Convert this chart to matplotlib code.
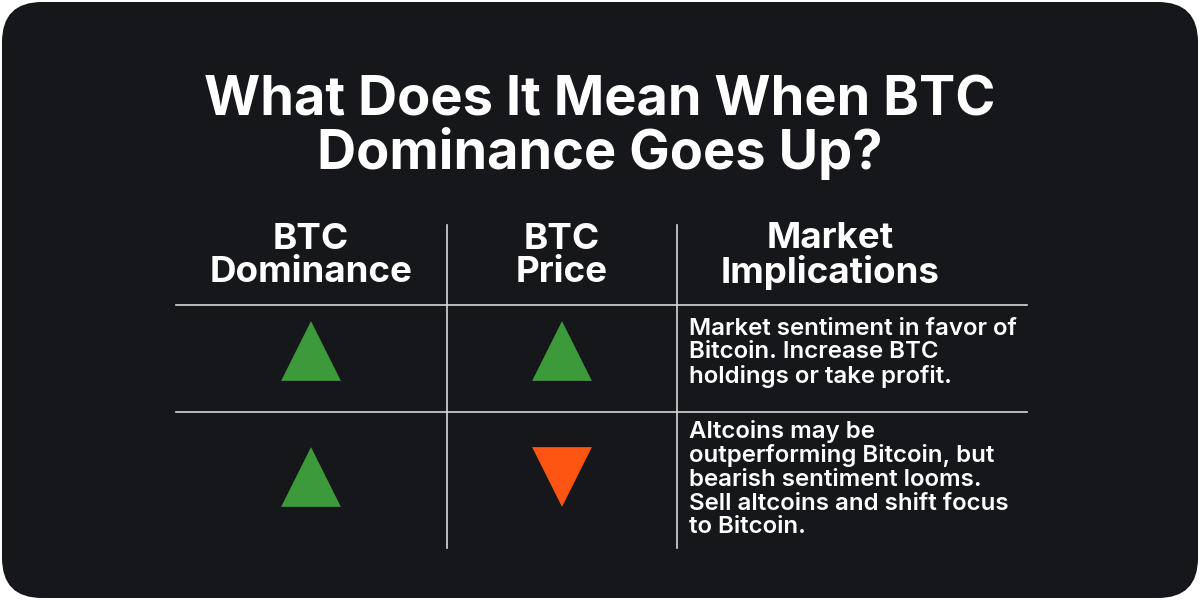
import matplotlib
matplotlib.use("Agg")
import matplotlib.pyplot as plt
from matplotlib.patches import FancyBboxPatch

title = "What Does It Mean When BTC\nDominance Goes Up?"
headers = ["BTC\nDominance", "BTC\nPrice", "Market\nImplications"]
dominance = ["up", "up"]
price = ["up", "down"]
implications = [
    "Market sentiment in favor of\nBitcoin. Increase BTC\nholdings or take profit.",
    "Altcoins may be\noutperforming Bitcoin, but\nbearish sentiment looms.\nSell altcoins and shift focus\nto Bitcoin.",
]

BG = "#15171b"
GREEN = "#3d9a3a"
ORANGE = "#ff5512"
FONT = "Inter"

fig = plt.figure(figsize=(12, 6), dpi=100)
fig.patch.set_facecolor("white")
ax = fig.add_axes([0, 0, 1, 1])
ax.set_xlim(0, 1200)
ax.set_ylim(600, 0)
ax.axis("off")

ax.add_patch(FancyBboxPatch((2, 2), 1196, 596, boxstyle="round,pad=0,rounding_size=40",
                            fc=BG, ec="none"))

ax.text(600, 128, title, color="white", fontsize=39, fontweight="bold", family=FONT,
        ha="center", va="center", linespacing=1.0)

col_x = [311, 562, 830]
for x, h in zip(col_x, headers):
    ax.text(x, 256, h, color="white", fontsize=26.5, fontweight="bold", family=FONT,
            ha="center", va="center", linespacing=0.98)

for x in [447, 677]:
    ax.plot([x, x], [225, 548], color="#d8d8d8", lw=1.2)
for y in [305, 412]:
    ax.plot([176, 1027], [y, y], color="#d8d8d8", lw=1.2)

row_y = [351, 477]
def tri(x, y, d):
    m = "^" if d == "up" else "v"
    c = GREEN if d == "up" else ORANGE
    ax.scatter([x], [y], marker=m, s=1850, color=c, edgecolors="none")

for y, d, p, txt in zip(row_y, dominance, price, implications):
    tri(col_x[0], y, d)
    tri(col_x[1], y, p)
    ax.text(689, y + 2, txt, color="white", fontsize=17.3, fontweight="semibold", family=FONT,
            ha="left", va="center", linespacing=1.1)

fig.savefig("out.png", dpi=100, facecolor="white")
